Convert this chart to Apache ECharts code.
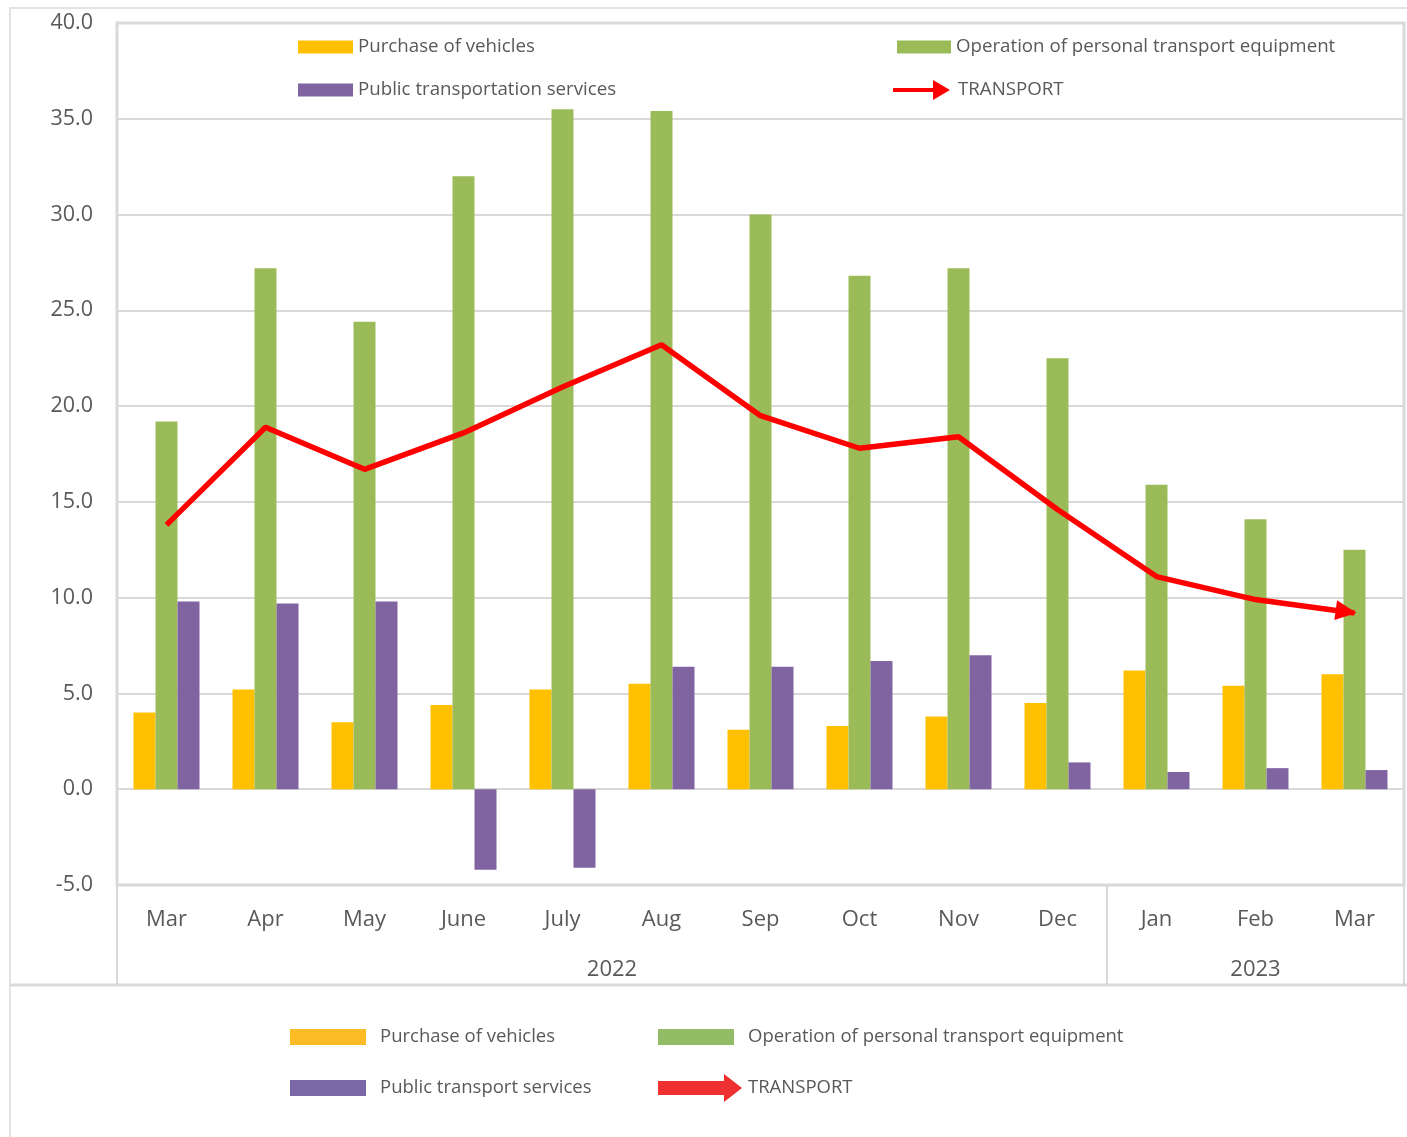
<!DOCTYPE html>
<html>
<head>
<meta charset="utf-8">
<script src="https://cdn.jsdelivr.net/npm/echarts@6/dist/echarts.min.js"></script>
<style>
  html, body { margin: 0; padding: 0; background: #fff; }
  #chart { width: 1407px; height: 1137px; }
</style>
</head>
<body>
<div id="chart"></div>
<script>
// data
var months = ['Mar', 'Apr', 'May', 'June', 'July', 'Aug', 'Sep', 'Oct', 'Nov', 'Dec', 'Jan', 'Feb', 'Mar'];
var years = ['2022', '2023'];
var monthsInYear = [10, 3];
var purchase = [4.0, 5.2, 3.5, 4.4, 5.2, 5.5, 3.1, 3.3, 3.8, 4.5, 6.2, 5.4, 6.0];
var operation = [19.2, 27.2, 24.4, 32.0, 35.5, 35.4, 30.0, 26.8, 27.2, 22.5, 15.9, 14.1, 12.5];
var publicTransport = [9.8, 9.7, 9.8, -4.2, -4.1, 6.4, 6.4, 6.7, 7.0, 1.4, 0.9, 1.1, 1.0];
var transport = [13.8, 18.9, 16.7, 18.6, 21.0, 23.2, 19.5, 17.8, 18.4, 14.6, 11.1, 9.9, 9.2];
var seriesNames = ['Purchase of vehicles', 'Operation of personal transport equipment', 'Public transportation services', 'TRANSPORT'];
var bottomNames = ['Purchase of vehicles', 'Operation of personal transport equipment', 'Public transport services', 'TRANSPORT'];

var chartDom = document.getElementById('chart');
var myChart = echarts.init(chartDom, null, { devicePixelRatio: 1, width: 1407, height: 1137 });

var font = '"Open Sans", "Noto Sans", sans-serif';
var textColor = '#595959';
var gridColor = '#d9d9d9';

// year axis: half-month steps so labels sit in the middle of each year block
var yearAxisData = [];
var yearBounds = [0];
for (var i = 0; i <= months.length * 2; i++) yearAxisData.push('');
var start = 0;
years.forEach(function (y, k) {
	yearAxisData[start * 2 + monthsInYear[k]] = y;
	start += monthsInYear[k];
	yearBounds.push(start * 2);
});

var arrowTop = 'path://M0,8 L40,8 L40,0 L57,10 L40,20 L40,12 L0,12 Z';
var arrowBottom = 'path://M0,7 L66,7 L66,0 L84,14 L66,28 L66,21 L0,21 Z';

function legendItem(name, label, left, top, w, h, color, icon, gap, size) {
	return {
		data: [{ name: name, itemStyle: { color: color }, icon: icon || 'rect' }],
		left: left,
		top: top,
		padding: 0,
		itemWidth: w,
		itemHeight: h,
		selectedMode: false,
		formatter: function () { return label; },
		textStyle: { color: textColor, fontSize: size || 18.7, fontFamily: font, lineHeight: 22, padding: [0, 0, 0, gap || 0] }
	};
}

var legends = [
	legendItem(seriesNames[0], seriesNames[0], 298, 36, 55, 13, '#FFC000'),
	legendItem(seriesNames[2], seriesNames[2], 298, 79, 55, 13, '#8064A2'),
	legendItem(seriesNames[1], seriesNames[1], 897, 36, 54, 13, '#9BBB59'),
	legendItem(seriesNames[3], seriesNames[3], 893, 79, 57, 20, '#FF0000', arrowTop, 3),
	legendItem(seriesNames[0], bottomNames[0], 290, 1026, 76, 16, '#FBBC26', null, 9, 18.5),
	legendItem(seriesNames[2], bottomNames[2], 290, 1077, 76, 16, '#7B68A6', null, 9, 18.5),
	legendItem(seriesNames[1], bottomNames[1], 658, 1026, 76, 16, '#93BC66', null, 9, 18.5),
	legendItem(seriesNames[3], bottomNames[3], 658, 1074, 84, 28, '#EE3030', arrowBottom, 1, 18.5)
];

var option = {
	animation: false,
	backgroundColor: '#fff',
	textStyle: { fontFamily: font },
	legend: legends,
	grid: {
		left: 117, right: 2, top: 23, bottom: 252,
		show: true, borderColor: gridColor, borderWidth: 3
	},
	xAxis: [
		{
			type: 'category',
			data: months,
			axisLine: { show: false },
			axisTick: { show: false },
			axisLabel: { color: textColor, fontSize: 22, fontFamily: font, margin: 24, interval: 0 }
		},
		{
			type: 'category',
			data: yearAxisData,
			boundaryGap: false,
			position: 'bottom',
			axisLine: { show: false },
			axisTick: {
				show: true,
				length: 100,
				interval: function (idx) { return yearBounds.indexOf(idx) >= 0; },
				lineStyle: { color: gridColor, width: 2 }
			},
			axisLabel: { color: textColor, fontSize: 22, fontFamily: font, margin: 74, interval: 0 }
		}
	],
	yAxis: {
		type: 'value',
		min: -5,
		max: 40,
		interval: 5,
		axisLine: { show: false },
		axisTick: { show: false },
		axisLabel: {
			color: textColor, fontSize: 21.5, fontFamily: font, margin: 24,
			formatter: function (v) { return v.toFixed(1); }
		},
		splitLine: { lineStyle: { color: gridColor, width: 2 } }
	},
	graphic: [
		{ type: 'rect', silent: true, z: -1, shape: { x: 10, y: 8, width: 1410, height: 1140 }, style: { fill: null, stroke: '#e3e3e3', lineWidth: 2 } },
		{ type: 'line', silent: true, shape: { x1: 10, y1: 985, x2: 1407, y2: 985 }, style: { stroke: gridColor, lineWidth: 3 } }
	],
	series: [
		{ name: seriesNames[0], type: 'bar', data: purchase, barWidth: 22, barGap: '0%', itemStyle: { color: '#FFC000' } },
		{ name: seriesNames[1], type: 'bar', data: operation, barWidth: 22, barGap: '0%', itemStyle: { color: '#9BBB59' } },
		{ name: seriesNames[2], type: 'bar', data: publicTransport, barWidth: 22, barGap: '0%', itemStyle: { color: '#8064A2' } },
		{
			name: seriesNames[3], type: 'line', data: transport, symbol: 'none', z: 5,
			lineStyle: { color: '#FF0000', width: 5.5 }, itemStyle: { color: '#FF0000' }
		}
	]
};

option && myChart.setOption(option);

// arrow head at the end of the TRANSPORT line, turned along the last segment
var n = transport.length;
var p1 = myChart.convertToPixel({ xAxisIndex: 0, yAxisIndex: 0 }, [n - 2, transport[n - 2]]);
var p2 = myChart.convertToPixel({ xAxisIndex: 0, yAxisIndex: 0 }, [n - 1, transport[n - 1]]);
var a = Math.atan2(p2[1] - p1[1], p2[0] - p1[0]);
var head = 21;
var lineData = transport.slice(0, n - 1);
lineData.push({
	value: transport[n - 1],
	symbol: 'triangle',
	symbolSize: [20, head],
	symbolRotate: -90 - a * 180 / Math.PI,
	symbolOffset: [-Math.cos(a) * head / 2 + 2, -Math.sin(a) * head / 2]
});
myChart.setOption({ series: [{}, {}, {}, { data: lineData }] });
</script>
</body>
</html>
